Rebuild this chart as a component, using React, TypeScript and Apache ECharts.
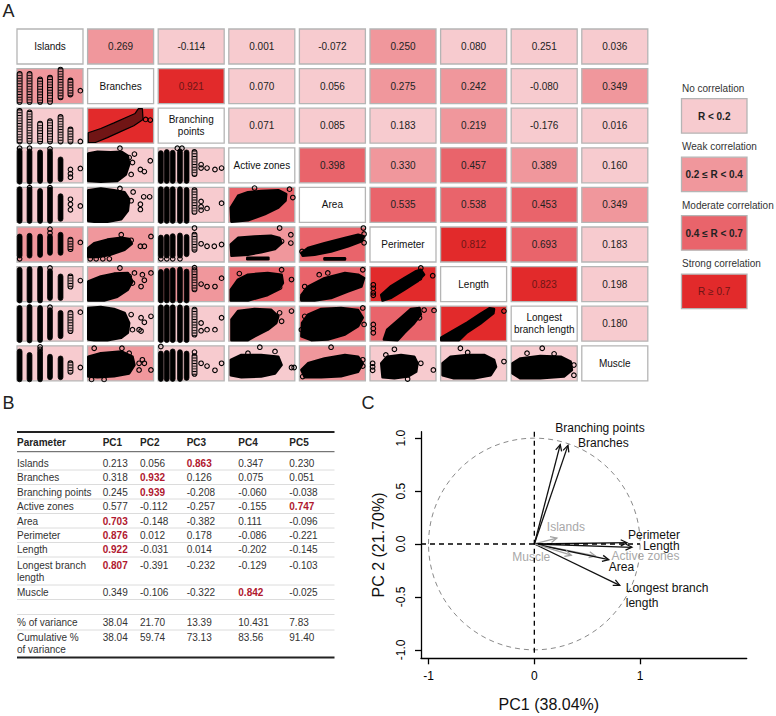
import React, { useEffect, useRef } from 'react';
import * as echarts from 'echarts';

const FONT = '"Liberation Sans", Arial, Helvetica, sans-serif';

// ---------- Panel A data ----------
const VAR_NAMES = ['Islands', 'Branches', 'Branching\npoints', 'Active zones', 'Area', 'Perimeter', 'Length', 'Longest\nbranch length', 'Muscle'];

// upper-triangle correlations [i, j, r]
const CORR_PAIRS = [
  [0, 1, 0.269], [0, 2, -0.114], [0, 3, 0.001], [0, 4, -0.072], [0, 5, 0.250], [0, 6, 0.080], [0, 7, 0.251], [0, 8, 0.036],
  [1, 2, 0.921], [1, 3, 0.070], [1, 4, 0.056], [1, 5, 0.275], [1, 6, 0.242], [1, 7, -0.080], [1, 8, 0.349],
  [2, 3, 0.071], [2, 4, 0.085], [2, 5, 0.183], [2, 6, 0.219], [2, 7, -0.176], [2, 8, 0.016],
  [3, 4, 0.398], [3, 5, 0.330], [3, 6, 0.457], [3, 7, 0.389], [3, 8, 0.160],
  [4, 5, 0.535], [4, 6, 0.538], [4, 7, 0.453], [4, 8, 0.349],
  [5, 6, 0.812], [5, 7, 0.693], [5, 8, 0.183],
  [6, 7, 0.823], [6, 8, 0.198],
  [7, 8, 0.180],
];
// strength class shown for each pair (0 none, 1 weak, 2 moderate, 3 strong)
const CORR_CLASS = [
  1, 0, 0, 0, 1, 0, 0, 0,
  3, 0, 0, 1, 1, 0, 1,
  0, 0, 0, 1, 0, 0,
  2, 1, 2, 1, 0,
  2, 2, 2, 1,
  3, 2, 0,
  3, 0,
  0,
];
const CLASS_COLORS = ['#f7cbcf', '#f0979c', '#e9646b', '#e22a2b'];
const LEGEND_TITLES = ['No correlation', 'Weak correlation', 'Moderate correlation', 'Strong correlation'];
const LEGEND_RANGES = ['R < 0.2', '0.2 ≤ R < 0.4', '0.4 ≤ R < 0.7', 'R ≥ 0.7'];

// columns of stacked points in scatter panels: [row, col, u, vLow, vHigh, kind(0 solid,1 rings)]
const COLUMNS = [
  [1, 0, 0.04, 0.05, 0.85, 1], [1, 0, 0.19, 0.05, 0.85, 1], [1, 0, 0.35, 0.05, 0.69, 1], [1, 0, 0.50, 0.05, 0.74, 1], [1, 0, 0.66, 0.18, 0.97, 1], [1, 0, 0.81, 0.26, 0.66, 1],
  [2, 0, 0.04, 0.05, 0.92, 1], [2, 0, 0.19, 0.05, 0.88, 1], [2, 0, 0.35, 0.05, 0.56, 1], [2, 0, 0.50, 0.05, 0.63, 1], [2, 0, 0.66, 0.05, 0.75, 1], [2, 0, 0.81, 0.05, 0.39, 1],
  [3, 0, 0.04, 0.03, 0.91, 0], [3, 0, 0.19, 0.03, 0.90, 0], [3, 0, 0.35, 0.05, 0.87, 0], [3, 0, 0.50, 0.05, 0.90, 0], [3, 0, 0.66, 0.10, 0.67, 0],
  [3, 2, 0.04, 0.05, 0.85, 0], [3, 2, 0.13, 0.05, 0.88, 0], [3, 2, 0.22, 0.05, 0.86, 0], [3, 2, 0.33, 0.05, 0.90, 0], [3, 2, 0.43, 0.05, 0.87, 0], [3, 2, 0.55, 0.25, 0.88, 1],
  [4, 0, 0.04, 0.04, 0.95, 0], [4, 0, 0.19, 0.04, 0.94, 0], [4, 0, 0.35, 0.04, 0.90, 0], [4, 0, 0.50, 0.04, 0.94, 0], [4, 0, 0.66, 0.10, 0.75, 0],
  [4, 2, 0.04, 0.04, 0.95, 0], [4, 2, 0.13, 0.04, 0.95, 0], [4, 2, 0.22, 0.04, 0.95, 0], [4, 2, 0.33, 0.04, 0.95, 0], [4, 2, 0.43, 0.04, 0.93, 0], [4, 2, 0.55, 0.30, 0.92, 1],
  [5, 0, 0.04, 0.18, 0.73, 0], [5, 0, 0.19, 0.18, 0.75, 0], [5, 0, 0.35, 0.20, 0.73, 0], [5, 0, 0.50, 0.26, 0.73, 0], [5, 0, 0.66, 0.26, 0.78, 0], [5, 0, 0.81, 0.37, 0.64, 1],
  [5, 2, 0.04, 0.18, 0.70, 0], [5, 2, 0.13, 0.18, 0.72, 0], [5, 2, 0.22, 0.18, 0.74, 0], [5, 2, 0.33, 0.18, 0.76, 0], [5, 2, 0.43, 0.22, 0.72, 0], [5, 2, 0.55, 0.35, 0.78, 1],
  [6, 0, 0.04, 0.03, 0.91, 0], [6, 0, 0.19, 0.03, 0.93, 0], [6, 0, 0.35, 0.03, 0.94, 0], [6, 0, 0.50, 0.10, 0.87, 0], [6, 0, 0.66, 0.10, 0.72, 0], [6, 0, 0.81, 0.43, 0.72, 1],
  [6, 2, 0.04, 0.03, 0.85, 0], [6, 2, 0.13, 0.03, 0.88, 0], [6, 2, 0.22, 0.03, 0.90, 0], [6, 2, 0.33, 0.03, 0.92, 0], [6, 2, 0.43, 0.03, 0.86, 0], [6, 2, 0.55, 0.35, 0.90, 1],
  [7, 0, 0.04, 0.03, 0.95, 0], [7, 0, 0.19, 0.02, 0.98, 0], [7, 0, 0.35, 0.03, 0.95, 0], [7, 0, 0.50, 0.10, 0.89, 0], [7, 0, 0.66, 0.14, 0.81, 0], [7, 0, 0.81, 0.29, 0.81, 1],
  [7, 2, 0.04, 0.03, 0.97, 0], [7, 2, 0.13, 0.03, 0.97, 0], [7, 2, 0.22, 0.03, 0.97, 0], [7, 2, 0.33, 0.03, 0.97, 0], [7, 2, 0.43, 0.03, 0.95, 0], [7, 2, 0.55, 0.19, 0.90, 1],
  [8, 0, 0.04, 0.04, 0.84, 0], [8, 0, 0.19, 0.04, 0.74, 0], [8, 0, 0.35, 0.04, 0.84, 0], [8, 0, 0.50, 0.10, 0.69, 0], [8, 0, 0.66, 0.10, 0.64, 0], [8, 0, 0.81, 0.26, 0.50, 1],
  [8, 2, 0.04, 0.05, 0.78, 0], [8, 2, 0.13, 0.05, 0.80, 0], [8, 2, 0.22, 0.05, 0.84, 0], [8, 2, 0.33, 0.05, 0.82, 0], [8, 2, 0.43, 0.08, 0.78, 0], [8, 2, 0.55, 0.20, 0.70, 1],
];

// dense point clouds (outline of the overlapping points): [row, col, kind, [[u, v], ...]]
const CLOUDS = [
  [2, 1, 1, [[0.01, 0.3], [0.2, 0.42], [0.4, 0.58], [0.6, 0.75], [0.72, 0.85], [0.77, 0.99], [0.83, 0.99], [0.84, 0.68], [0.7, 0.5], [0.5, 0.33], [0.3, 0.16], [0.12, 0.02], [0.01, 0.02]]],
  [3, 1, 0, [[0.01, 0.84], [0.15, 0.89], [0.35, 0.87], [0.51, 0.89], [0.61, 0.77], [0.63, 0.53], [0.58, 0.24], [0.45, 0.05], [0.2, 0.03], [0.01, 0.05]]],
  [4, 1, 0, [[0.01, 0.92], [0.2, 0.97], [0.4, 0.92], [0.56, 0.86], [0.63, 0.66], [0.61, 0.33], [0.51, 0.09], [0.3, 0.02], [0.1, 0.02], [0.01, 0.04]]],
  [4, 3, 0, [[0.03, 0.42], [0.14, 0.76], [0.29, 0.86], [0.49, 0.9], [0.75, 0.92], [0.87, 0.81], [0.86, 0.62], [0.75, 0.42], [0.54, 0.23], [0.29, 0.06], [0.04, 0.02]]],
  [5, 1, 0, [[0.01, 0.4], [0.1, 0.54], [0.3, 0.64], [0.51, 0.69], [0.63, 0.66], [0.67, 0.52], [0.56, 0.35], [0.35, 0.21], [0.15, 0.14], [0.01, 0.14]]],
  [5, 3, 0, [[0.03, 0.5], [0.14, 0.69], [0.39, 0.73], [0.64, 0.75], [0.77, 0.69], [0.8, 0.54], [0.7, 0.37], [0.49, 0.28], [0.29, 0.21], [0.04, 0.18]]],
  [5, 3, 0, [[0.28, 0.12], [0.6, 0.12], [0.6, 0.08], [0.28, 0.08]]],
  [5, 4, 0, [[0.03, 0.26], [0.13, 0.4], [0.38, 0.54], [0.69, 0.69], [0.89, 0.78], [0.98, 0.73], [0.94, 0.59], [0.74, 0.45], [0.48, 0.3], [0.23, 0.21], [0.05, 0.18]]],
  [5, 4, 0, [[0.38, 0.11], [0.69, 0.11], [0.69, 0.07], [0.38, 0.07]]],
  [6, 1, 0, [[0.01, 0.58], [0.2, 0.72], [0.4, 0.8], [0.61, 0.82], [0.68, 0.58], [0.61, 0.34], [0.45, 0.14], [0.25, 0.03], [0.01, 0.03]]],
  [6, 3, 0, [[0.03, 0.34], [0.14, 0.63], [0.29, 0.77], [0.59, 0.82], [0.8, 0.77], [0.82, 0.53], [0.75, 0.34], [0.59, 0.19], [0.29, 0.03], [0.03, 0.03]]],
  [6, 4, 0, [[0.03, 0.19], [0.13, 0.43], [0.38, 0.67], [0.69, 0.82], [0.89, 0.77], [0.98, 0.67], [0.94, 0.43], [0.74, 0.29], [0.48, 0.1], [0.23, 0.03], [0.03, 0.03]]],
  [6, 5, 0, [[0.17, 0.19], [0.31, 0.43], [0.52, 0.67], [0.7, 0.87], [0.77, 0.91], [0.82, 0.77], [0.72, 0.58], [0.52, 0.34], [0.31, 0.1], [0.19, 0.03]]],
  [7, 1, 0, [[0.01, 0.95], [0.2, 0.98], [0.4, 0.92], [0.56, 0.81], [0.63, 0.52], [0.61, 0.24], [0.51, 0.1], [0.3, 0.03], [0.1, 0.03], [0.01, 0.05]]],
  [7, 3, 0, [[0.04, 0.62], [0.14, 0.86], [0.39, 0.92], [0.64, 0.9], [0.75, 0.71], [0.72, 0.52], [0.59, 0.33], [0.39, 0.14], [0.29, 0.03], [0.04, 0.03]]],
  [7, 4, 0, [[0.04, 0.52], [0.13, 0.76], [0.33, 0.92], [0.63, 0.95], [0.89, 0.89], [0.96, 0.67], [0.89, 0.43], [0.69, 0.19], [0.43, 0.05], [0.18, 0.03], [0.03, 0.14]]],
  [7, 5, 0, [[0.21, 0.05], [0.26, 0.33], [0.47, 0.67], [0.62, 0.92], [0.75, 0.95], [0.77, 0.76], [0.67, 0.52], [0.52, 0.24], [0.42, 0.03]]],
  [7, 6, 0, [[0.01, 0.1], [0.18, 0.29], [0.41, 0.54], [0.61, 0.79], [0.74, 0.94], [0.81, 0.92], [0.8, 0.8], [0.6, 0.5], [0.4, 0.25], [0.28, 0.03], [0.01, 0.03]]],
  [8, 1, 0, [[0.01, 0.69], [0.2, 0.79], [0.51, 0.84], [0.68, 0.69], [0.71, 0.45], [0.63, 0.21], [0.4, 0.13], [0.15, 0.1], [0.01, 0.12]]],
  [8, 3, 0, [[0.03, 0.6], [0.19, 0.74], [0.49, 0.74], [0.75, 0.69], [0.8, 0.45], [0.7, 0.21], [0.49, 0.12], [0.19, 0.1], [0.03, 0.16]]],
  [8, 4, 0, [[0.03, 0.31], [0.13, 0.5], [0.38, 0.64], [0.69, 0.74], [0.89, 0.69], [0.96, 0.5], [0.89, 0.26], [0.63, 0.13], [0.33, 0.1], [0.08, 0.1]]],
  [8, 5, 0, [[0.17, 0.5], [0.26, 0.69], [0.47, 0.74], [0.67, 0.69], [0.72, 0.5], [0.7, 0.26], [0.57, 0.12], [0.37, 0.07], [0.19, 0.1]]],
  [8, 6, 0, [[0.03, 0.5], [0.15, 0.69], [0.41, 0.74], [0.66, 0.74], [0.81, 0.6], [0.84, 0.4], [0.76, 0.16], [0.51, 0.07], [0.2, 0.07], [0.03, 0.16]]],
  [8, 7, 0, [[0.02, 0.5], [0.14, 0.64], [0.44, 0.71], [0.75, 0.69], [0.9, 0.55], [0.92, 0.31], [0.8, 0.12], [0.44, 0.07], [0.14, 0.07], [0.02, 0.21]]],
];

// isolated points: [row, col, u, v]
const SINGLE_POINTS = [
  [1, 0, 0.96, 0.37],
  [2, 0, 0.96, 0.05], [2, 1, 0.88, 0.68], [2, 1, 0.95, 0.66],
  [3, 0, 0.19, 0.99], [3, 0, 0.5, 0.97], [3, 0, 0.04, 0.99], [3, 0, 0.81, 0.38], [3, 0, 0.81, 0.26], [3, 0, 0.81, 0.16], [3, 0, 0.96, 0.41],
  [3, 1, 0.49, 0.99], [3, 1, 0.63, 0.72], [3, 1, 0.71, 0.82], [3, 1, 0.68, 0.58], [3, 1, 0.8, 0.38], [3, 1, 0.86, 0.32], [3, 1, 0.95, 0.63], [3, 1, 0.66, 0.24],
  [3, 2, 0.29, 0.99], [3, 2, 0.36, 0.99], [3, 2, 0.65, 0.52], [3, 2, 0.65, 0.42], [3, 2, 0.74, 0.42], [3, 2, 0.86, 0.38], [3, 2, 0.96, 0.42],
  [4, 0, 0.19, 0.99], [4, 0, 0.5, 0.99], [4, 0, 0.81, 0.66], [4, 0, 0.81, 0.52], [4, 0, 0.81, 0.36], [4, 0, 0.96, 0.47],
  [4, 1, 0.49, 0.97], [4, 1, 0.69, 0.87], [4, 1, 0.85, 0.73], [4, 1, 0.94, 0.73], [4, 1, 0.8, 0.52], [4, 1, 0.8, 0.37], [4, 1, 0.66, 0.62],
  [4, 2, 0.65, 0.6], [4, 2, 0.65, 0.45], [4, 2, 0.65, 0.35], [4, 2, 0.74, 0.4], [4, 2, 0.96, 0.55],
  [4, 3, 0.8, 0.66], [4, 3, 0.97, 0.71], [4, 3, 0.92, 0.95], [4, 3, 0.39, 0.98],
  [5, 0, 0.04, 0.09], [5, 0, 0.5, 0.94], [5, 0, 0.5, 0.83], [5, 0, 0.96, 0.56],
  [5, 1, 0.04, 0.09], [5, 1, 0.13, 0.09], [5, 1, 0.23, 0.09], [5, 1, 0.33, 0.09], [5, 1, 0.51, 0.78], [5, 1, 0.66, 0.62], [5, 1, 0.8, 0.45], [5, 1, 0.86, 0.45], [5, 1, 0.96, 0.73],
  [5, 2, 0.55, 0.97], [5, 2, 0.65, 0.52], [5, 2, 0.74, 0.45], [5, 2, 0.85, 0.45], [5, 2, 0.96, 0.5], [5, 2, 0.04, 0.09], [5, 2, 0.13, 0.09], [5, 2, 0.22, 0.09], [5, 2, 0.33, 0.09],
  [5, 3, 0.77, 0.97], [5, 3, 0.94, 0.78], [5, 3, 0.94, 0.54], [5, 3, 0.8, 0.59],
  [5, 4, 0.04, 0.3], [5, 4, 0.97, 0.97], [5, 4, 0.98, 0.55], [5, 4, 0.98, 0.8],
  [6, 0, 0.5, 0.96], [6, 0, 0.96, 0.6],
  [6, 1, 0.49, 0.96], [6, 1, 0.63, 0.72], [6, 1, 0.71, 0.82], [6, 1, 0.83, 0.77], [6, 1, 0.81, 0.43], [6, 1, 0.86, 0.61], [6, 1, 0.96, 0.82], [6, 1, 0.68, 0.53],
  [6, 2, 0.55, 0.97], [6, 2, 0.65, 0.5], [6, 2, 0.74, 0.43], [6, 2, 0.86, 0.43], [6, 2, 0.96, 0.67],
  [6, 3, 0.16, 0.8], [6, 3, 0.95, 0.63], [6, 3, 0.77, 0.41], [6, 3, 0.8, 0.91],
  [6, 4, 0.08, 0.43], [6, 4, 0.1, 0.29], [6, 4, 0.3, 0.77], [6, 4, 0.43, 0.82], [6, 4, 0.96, 0.91], [6, 4, 0.05, 0.1],
  [6, 5, 0.05, 0.48], [6, 5, 0.05, 0.38], [6, 5, 0.05, 0.25], [6, 5, 0.05, 0.18], [6, 5, 0.77, 0.96], [6, 5, 0.95, 0.74], [6, 5, 0.75, 0.67],
  [7, 0, 0.96, 0.83], [7, 0, 0.5, 0.97],
  [7, 1, 0.66, 0.76], [7, 1, 0.81, 0.67], [7, 1, 0.86, 0.54], [7, 1, 0.96, 0.71], [7, 1, 0.78, 0.33], [7, 1, 0.81, 0.29], [7, 1, 0.68, 0.33],
  [7, 2, 0.65, 0.52], [7, 2, 0.65, 0.3], [7, 2, 0.74, 0.33], [7, 2, 0.86, 0.33], [7, 2, 0.96, 0.67],
  [7, 3, 0.8, 0.57], [7, 3, 0.95, 0.86], [7, 3, 0.77, 0.81],
  [7, 4, 0.08, 0.71], [7, 4, 0.03, 0.33], [7, 4, 0.96, 0.95], [7, 4, 0.98, 0.48], [7, 4, 0.08, 0.24],
  [7, 5, 0.05, 0.48], [7, 5, 0.05, 0.36], [7, 5, 0.05, 0.24], [7, 5, 0.82, 0.89], [7, 5, 0.97, 0.88], [7, 5, 0.75, 0.67],
  [7, 6, 0.96, 0.86],
  [8, 0, 0.35, 0.97], [8, 0, 0.35, 0.9], [8, 0, 0.96, 0.38],
  [8, 1, 0.1, 0.93], [8, 1, 0.52, 0.93], [8, 1, 0.63, 0.79], [8, 1, 0.78, 0.5], [8, 1, 0.86, 0.5], [8, 1, 0.96, 0.31], [8, 1, 0.78, 0.31], [8, 1, 0.83, 0.6], [8, 1, 0.06, 0.04], [8, 1, 0.25, 0.04],
  [8, 2, 0.04, 0.98], [8, 2, 0.55, 0.82], [8, 2, 0.65, 0.5], [8, 2, 0.74, 0.42], [8, 2, 0.86, 0.3], [8, 2, 0.96, 0.5],
  [8, 3, 0.47, 0.96], [8, 3, 0.7, 0.84], [8, 3, 0.95, 0.38], [8, 3, 0.99, 0.38], [8, 3, 0.29, 0.79],
  [8, 4, 0.48, 0.96], [8, 4, 0.96, 0.6], [8, 4, 0.96, 0.42], [8, 4, 0.05, 0.12],
  [8, 5, 0.04, 0.5], [8, 5, 0.04, 0.4], [8, 5, 0.04, 0.3], [8, 5, 0.37, 0.9], [8, 5, 0.77, 0.5], [8, 5, 0.96, 0.31], [8, 5, 0.57, 0.05], [8, 5, 0.24, 0.74],
  [8, 6, 0.3, 0.93], [8, 6, 0.96, 0.55], [8, 6, 0.41, 0.81],
  [8, 7, 0.47, 0.93], [8, 7, 0.95, 0.45], [8, 7, 0.95, 0.16], [8, 7, 0.24, 0.79], [8, 7, 0.65, 0.77],
];

// ---------- Panel B / C data ----------
const PARAMS = ['Islands', 'Branches', 'Branching points', 'Active zones', 'Area', 'Perimeter', 'Length', 'Longest branch\nlength', 'Muscle'];
const PC1 = [0.213, 0.318, 0.245, 0.577, 0.703, 0.876, 0.922, 0.807, 0.349];
const PC2 = [0.056, 0.932, 0.939, -0.112, -0.148, 0.012, -0.031, -0.391, -0.106];
const PC3 = [0.863, 0.126, -0.208, -0.257, -0.382, 0.178, 0.014, -0.232, -0.322];
const PC4 = [0.347, 0.075, -0.060, -0.155, 0.111, -0.086, -0.202, -0.129, 0.842];
const PC5 = [0.230, 0.051, -0.038, 0.747, -0.096, -0.221, -0.145, -0.103, -0.025];
const PCT_VARIANCE = ['38.04', '21.70', '13.39', '10.431', '7.83'];
const CUM_VARIANCE = ['38.04', '59.74', '73.13', '83.56', '91.40'];
const TABLE_HEADERS = ['Parameter', 'PC1', 'PC2', 'PC3', 'PC4', 'PC5'];

const BIPLOT_LABELS = ['Islands', 'Branches', 'Branching points', 'Active zones', 'Area', 'Perimeter', 'Length', 'Longest branch\nlength', 'Muscle'];
const BIPLOT_GRAY = [true, false, false, true, false, false, false, false, true];
const ZERO_V = [[0, 1.061], [0, -1.03]];
const ZERO_H = [[-1.071, 0], [1.0, 0]];
const X_TICKS = [-1, 0, 1];
const Y_TICKS = [-1, -0.5, 0, 0.5, 1];

// ---------- layout constants ----------
const CW = 66 / 70.6;
const CH = 35 / 39.6;
const LABEL_LAYOUT = [
  { dx: -10, dy: -11, align: 'left' },
  { dx: 10, dy: -2, align: 'left' },
  { dx: -5, dy: -17, align: 'left' },
  { dx: 16, dy: 0, align: 'left' },
  { dx: 0, dy: 7, align: 'left' },
  { dx: 1, dy: -8, align: 'left' },
  { dx: 11, dy: -1, align: 'left' },
  { dx: 6, dy: 10.5, align: 'left' },
  { dx: -21, dy: 2, align: 'right' },
];
const TABLE_COL_X = [17, 102.7, 140, 186.7, 238.3, 289.3];
const TABLE_ROW_Y = [463, 477.5, 492, 506.5, 521, 535.3, 549.5, 565, 592];
const TABLE_SEP_Y = [470, 484.5, 499, 513.5, 528, 542.5, 557, 585, 599.5, 614.5, 630];

function classOf(i: number, j: number) {
  const a = Math.min(i, j), b = Math.max(i, j);
  const k = CORR_PAIRS.findIndex((p) => p[0] === a && p[1] === b);
  return { r: CORR_PAIRS[k][2] as number, cls: CORR_CLASS[k] };
}

function buildCells() {
  const items: any[] = [];
  for (let i = 0; i < 9; i++) {
    for (let j = 0; j < 9; j++) {
      if (i === j) {
        items.push({ col: j, row: i, fill: '#ffffff', text: VAR_NAMES[i], color: '#111' });
      } else {
        const { r, cls } = classOf(i, j);
        items.push({
          col: j, row: i, fill: CLASS_COLORS[cls],
          text: i < j ? r.toFixed(3) : '',
          color: cls === 3 ? '#6e1515' : '#222',
        });
      }
    }
  }
  return items;
}

function txt(x: number, y: number, text: string, o: any = {}) {
  return {
    type: 'text', x, y, silent: true,
    style: {
      text, fill: o.fill || '#333', fontSize: o.size || 10, fontFamily: FONT,
      fontWeight: o.weight || 'normal', textAlign: o.align || 'left',
      textVerticalAlign: o.valign || 'middle', lineHeight: o.lh || 12,
    },
  };
}
function hline(x1: number, x2: number, y: number, w: number, c: string) {
  return { type: 'line', silent: true, shape: { x1, y1: y, x2, y2: y }, style: { stroke: c, lineWidth: w } };
}

function buildGraphics() {
  const g: any[] = [];
  g.push(txt(2.5, 10.5, 'A', { size: 18, fill: '#222' }));
  g.push(txt(2.5, 402.5, 'B', { size: 18, fill: '#222' }));
  g.push(txt(361.5, 402.5, 'C', { size: 18, fill: '#222' }));
  // legend
  for (let k = 0; k < 4; k++) {
    const top = 98.7 + k * 58.5;
    g.push(txt(682, top - 10.4, LEGEND_TITLES[k], { fill: '#333' }));
    g.push({ type: 'rect', silent: true, shape: { x: 681.5, y: top, width: 65.5, height: 34.5 }, style: { fill: CLASS_COLORS[k], stroke: '#b5b5b5', lineWidth: 1.3 } });
    g.push(txt(714.2, top + 17.3, LEGEND_RANGES[k], { align: 'center', weight: k === 3 ? 'normal' : 'bold', fill: k === 3 ? '#6e1515' : '#222' }));
  }
  // table
  const x0 = 17, x1 = 334.5;
  g.push(hline(x0, x1, 432, 2, '#222'));
  g.push(hline(x0, x1, 451.7, 1, '#555'));
  TABLE_SEP_Y.forEach((y) => g.push(hline(x0, x1, y, 1, '#dcdcdc')));
  g.push(hline(x0, x1, 657.5, 2, '#222'));
  TABLE_HEADERS.forEach((h, c) => g.push(txt(TABLE_COL_X[c], 442.5, h, { weight: 'bold', fill: '#222' })));
  const pcs = [PC1, PC2, PC3, PC4, PC5];
  PARAMS.forEach((p, r) => {
    const y = TABLE_ROW_Y[r];
    g.push(txt(TABLE_COL_X[0], y - 6, p, { valign: 'top', lh: 12.3 }));
    pcs.forEach((pc, c) => {
      const v = pc[r];
      const hi = Math.abs(v) > 0.7;
      g.push(txt(TABLE_COL_X[c + 1], y - 6, v.toFixed(3), { valign: 'top', weight: hi ? 'bold' : 'normal', fill: hi ? '#b0172e' : '#333' }));
    });
  });
  g.push(txt(TABLE_COL_X[0], 622 - 6, '% of variance', { valign: 'top' }));
  g.push(txt(TABLE_COL_X[0], 637.5 - 6, 'Cumulative %\nof variance', { valign: 'top', lh: 12.3 }));
  PCT_VARIANCE.forEach((v, c) => g.push(txt(TABLE_COL_X[c + 1], 622 - 6, v, { valign: 'top' })));
  CUM_VARIANCE.forEach((v, c) => g.push(txt(TABLE_COL_X[c + 1], 637.5 - 6, v, { valign: 'top' })));
  return g;
}

function buildOption() {
  const cells = buildCells();
  const toXY = (row: number, col: number, u: number, v: number) => [col + u * CW, row + (1 - v) * CH];
  const axisBlack = { lineStyle: { color: '#000', width: 1.3 } };
  return {
    animation: false,
    textStyle: { fontFamily: FONT },
    grid: [
      { left: 17, top: 29, width: 635.4, height: 356.4 },
      { left: 421, top: 431.7, width: 325.7, height: 226.6 },
    ],
    xAxis: [
      { gridIndex: 0, type: 'value', min: 0, max: 9, show: false },
      {
        gridIndex: 1, type: 'value', min: -1.071, max: 2.007,
        axisLine: { show: true, onZero: false, ...axisBlack },
        axisTick: { show: true, length: 6, customValues: X_TICKS, ...axisBlack },
        axisLabel: { customValues: X_TICKS, formatter: (v: number) => String(v), fontSize: 12, color: '#000', margin: 12 },
        splitLine: { show: false },
        name: 'PC1 (38.04%)', nameLocation: 'middle', nameGap: 38,
        nameTextStyle: { fontSize: 16, color: '#111', padding: [0, 70, 0, 0] },
      },
    ],
    yAxis: [
      { gridIndex: 0, type: 'value', min: 0, max: 9, inverse: true, show: false },
      {
        gridIndex: 1, type: 'value', min: -1.08, max: 1.061,
        axisLine: { show: true, onZero: false, ...axisBlack },
        axisTick: { show: true, length: 6, customValues: Y_TICKS, ...axisBlack },
        axisLabel: { customValues: Y_TICKS, formatter: (v: number) => v.toFixed(1), fontSize: 12, color: '#000', margin: 14, rotate: 90 },
        splitLine: { show: false },
        name: 'PC 2 (21.70%)', nameLocation: 'middle', nameGap: 35,
        nameTextStyle: { fontSize: 16, color: '#111' },
      },
    ],
    graphic: buildGraphics(),
    series: [
      {
        type: 'custom', xAxisIndex: 0, yAxisIndex: 0, silent: true,
        data: cells.map((c) => [c.col, c.row]),
        renderItem: (params: any, api: any) => {
          const it = cells[params.dataIndex];
          const p = api.coord([it.col, it.row]);
          const s = api.size([CW, CH]);
          const ch: any[] = [{ type: 'rect', shape: { x: p[0], y: p[1], width: s[0], height: s[1] }, style: { fill: it.fill, stroke: '#b5b5b5', lineWidth: 1.3 } }];
          if (it.text) {
            ch.push({ type: 'text', x: p[0] + s[0] / 2, y: p[1] + s[1] / 2, style: { text: it.text, fill: it.color, fontSize: 10, fontFamily: FONT, textAlign: 'center', textVerticalAlign: 'middle', lineHeight: 12 } });
          }
          return { type: 'group', children: ch };
        },
      },
      {
        type: 'custom', xAxisIndex: 0, yAxisIndex: 0, silent: true,
        data: COLUMNS.map((c) => toXY(c[0], c[1], c[2], c[3]).concat(toXY(c[0], c[1], c[2], c[4])[1], c[5])),
        renderItem: (params: any, api: any) => {
          const lo = api.coord([api.value(0), api.value(1)]);
          const hi = api.coord([api.value(0), api.value(2)]);
          const ring = api.value(3) === 1;
          const w = 4.8;
          const shape = { x: lo[0] - w / 2, y: hi[1] - w / 2, width: w, height: lo[1] - hi[1] + w, r: w / 2 };
          if (!ring) {
            return { type: 'rect', shape, style: { fill: '#000', stroke: '#000', lineWidth: 0.8 } };
          }
          return {
            type: 'group',
            children: [
              { type: 'rect', shape, style: { fill: 'rgba(0,0,0,0.12)', stroke: '#000', lineWidth: 1.1 } },
              { type: 'line', shape: { x1: lo[0], y1: hi[1] - w / 2 + 1, x2: lo[0], y2: lo[1] + w / 2 - 1 }, style: { stroke: '#000', lineWidth: 4, lineDash: [0.9, 1.8] } },
            ],
          };
        },
      },
      {
        type: 'custom', xAxisIndex: 0, yAxisIndex: 0, silent: true,
        data: CLOUDS.map((c) => [c[1], c[0]]),
        renderItem: (params: any, api: any) => {
          const c: any = CLOUDS[params.dataIndex];
          const pts = c[3].map((q: number[]) => api.coord(toXY(c[0], c[1], q[0], q[1])));
          const ring = c[2] === 1;
          return {
            type: 'polygon', shape: { points: pts },
            style: ring ? { fill: 'rgba(0,0,0,0.5)', stroke: '#000', lineWidth: 1.2, lineJoin: 'round' } : { fill: '#000', stroke: '#000', lineWidth: 2.5, lineJoin: 'round' },
          };
        },
      },
      {
        type: 'scatter', xAxisIndex: 0, yAxisIndex: 0, silent: true,
        symbol: 'circle', symbolSize: 4.6,
        itemStyle: { color: 'rgba(0,0,0,0)', borderColor: '#000', borderWidth: 1.1, opacity: 1 },
        data: SINGLE_POINTS.map((p) => toXY(p[0], p[1], p[2], p[3])),
      },
      // biplot
      {
        type: 'custom', xAxisIndex: 1, yAxisIndex: 1, silent: true,
        data: [[0, 0, 1]],
        renderItem: (params: any, api: any) => {
          const c = api.coord([api.value(0), api.value(1)]);
          const r = api.size([api.value(2), api.value(2)]);
          return { type: 'ellipse', shape: { cx: c[0], cy: c[1], rx: r[0], ry: r[1] }, style: { fill: 'none', stroke: '#8a8a8a', lineWidth: 1, lineDash: [5, 4] } };
        },
      },
      {
        type: 'line', xAxisIndex: 1, yAxisIndex: 1, silent: true, symbol: 'none',
        lineStyle: { color: '#000', width: 1.3, type: [5, 4] }, data: ZERO_V,
      },
      {
        type: 'line', xAxisIndex: 1, yAxisIndex: 1, silent: true, symbol: 'none',
        lineStyle: { color: '#000', width: 1.3, type: [5, 4] }, data: ZERO_H,
      },
      {
        type: 'custom', xAxisIndex: 1, yAxisIndex: 1, silent: true,
        data: PC1.map((x, i) => [x, PC2[i]]),
        renderItem: (params: any, api: any) => {
          const i = params.dataIndex;
          const o = api.coord([0, 0]);
          const e = api.coord([api.value(0), api.value(1)]);
          const ang = Math.atan2(e[1] - o[1], e[0] - o[0]);
          const L = 7, a = 0.45;
          const h1 = [e[0] + L * Math.cos(ang + Math.PI - a), e[1] + L * Math.sin(ang + Math.PI - a)];
          const h2 = [e[0] + L * Math.cos(ang + Math.PI + a), e[1] + L * Math.sin(ang + Math.PI + a)];
          const col = BIPLOT_GRAY[i] ? '#a3a3a3' : '#111';
          const lay = LABEL_LAYOUT[i];
          return {
            type: 'group',
            children: [
              { type: 'line', shape: { x1: o[0], y1: o[1], x2: e[0], y2: e[1] }, style: { stroke: col, lineWidth: 1.3 } },
              { type: 'polyline', shape: { points: [h1, e, h2] }, style: { stroke: col, lineWidth: 1.3, fill: 'none' } },
              { type: 'text', x: e[0] + lay.dx, y: e[1] + lay.dy, style: { text: BIPLOT_LABELS[i], fill: BIPLOT_GRAY[i] ? '#a8a8a8' : '#111', fontSize: 12, fontFamily: FONT, textAlign: lay.align, textVerticalAlign: 'middle', lineHeight: 15 } },
            ],
          };
        },
      },
    ],
  };
}

export default function App() {
  const ref = useRef<HTMLDivElement>(null);
  useEffect(() => {
    const chart = echarts.init(ref.current as HTMLDivElement, undefined, { renderer: 'svg' });
    chart.setOption(buildOption() as any);
    return () => chart.dispose();
  }, []);
  return <div ref={ref} style={{ position: 'fixed', left: 0, top: 0, width: 776, height: 716, background: '#fff' }} />;
}
